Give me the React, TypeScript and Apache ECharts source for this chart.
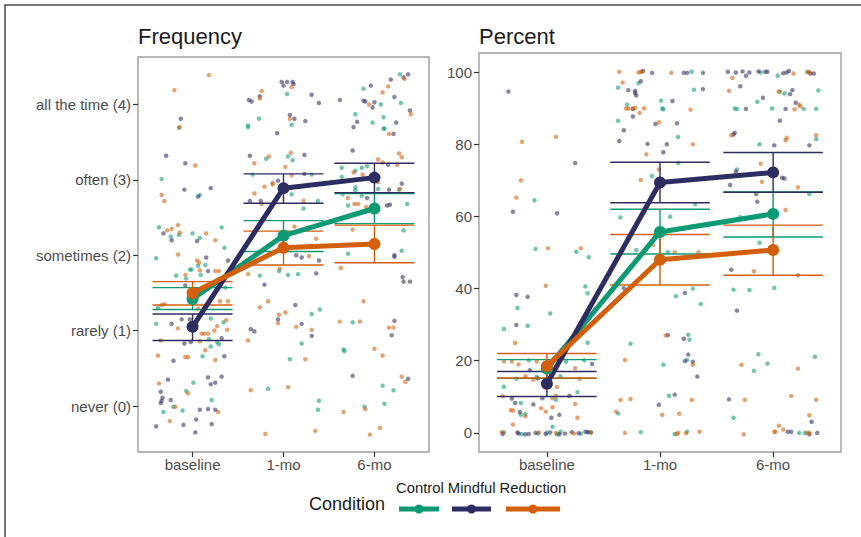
import React, { useEffect, useRef } from "react";
import * as echarts from "echarts";

const timeLabels = ["baseline", "1-mo", "6-mo"];
const freqLabels = ["never (0)", "rarely (1)", "sometimes (2)", "often (3)", "all the time (4)"];
const pctTicks = [0, 20, 40, 60, 80, 100];
const groups = ["Control", "Mindful", "Reduction"];
const groupColors = ["#0b9a73", "#2e2d62", "#d35f0a"];

// Frequency panel: jittered raw responses [x, y]
const freqControl = [
  [0.85,3.69],[0.66,3.01],[1.08,2.80],[0.63,2.37],[0.85,2.27],[0.76,2.25],[1.00,2.29],[1.08,2.23],[1.32,2.37],[1.35,2.10],
  [0.60,1.96],[1.06,1.86],[1.14,1.87],[0.97,1.81],[0.99,1.81],[0.82,1.73],[1.09,1.74],[0.93,1.69],[1.36,1.57],[0.62,1.30],
  [0.60,1.09],[1.20,1.16],[1.34,1.11],[1.18,0.89],[1.27,0.85],[1.29,0.82],[1.20,0.79],[1.11,0.66],[1.01,0.31],[0.93,0.20],
  [1.21,0.08],[0.79,-0.01],[0.68,-0.08],[0.89,-0.06],
  [2.04,4.14],[1.73,3.81],[2.09,3.73],[1.61,3.72],[1.61,3.70],[1.81,3.28],[2.05,3.31],[2.10,3.26],[1.66,3.07],[2.31,3.07],
  [2.09,2.81],[2.38,2.72],[2.22,2.62],[1.95,1.79],[1.74,1.73],[2.05,1.74],[2.16,1.75],[2.40,1.28],[2.31,1.22],[2.20,0.83],
  [2.07,0.62],[1.83,0.23],[2.39,0.07],[2.38,-0.05],
  [3.28,4.40],[2.88,4.21],[3.07,4.00],[3.29,4.02],[2.79,3.87],[3.10,3.83],[2.98,3.76],[3.10,3.68],[3.11,3.68],[2.64,3.16],
  [2.64,3.04],[2.79,3.12],[2.86,3.16],[2.92,3.18],[3.27,2.87],[3.04,2.88],[2.65,2.81],[2.79,2.90],[2.79,2.86],[2.86,2.79],
  [2.71,2.66],[3.36,2.68],[3.32,2.33],[2.71,2.02],[3.30,2.06],[2.66,0.75],[2.67,0.73],[2.76,1.11],[3.09,0.27],[3.21,0.21],
  [3.11,0.03],[2.89,-0.01],
];
const freqMindful = [
  [0.87,3.81],[0.71,3.32],[0.92,3.22],[0.91,2.87],[1.20,2.89],[1.06,2.78],[0.68,2.29],[0.77,2.20],[1.05,2.19],
  [1.15,1.97],[1.39,1.93],[1.17,1.79],[0.92,1.60],[0.88,1.15],[0.97,1.15],[0.77,1.09],[1.32,0.90],[0.91,0.83],[0.98,0.85],
  [1.35,0.66],[0.79,0.60],[0.73,0.35],[1.17,0.38],[1.32,0.39],[1.25,0.31],[1.20,0.29],[0.65,0.19],[0.67,0.11],[0.66,0.07],
  [0.65,0.04],[0.76,0.08],[1.08,-0.05],[1.17,-0.04],[1.25,-0.05],[0.60,-0.27],[1.04,-0.18],[0.90,-0.25],[1.21,-0.24],[1.03,-0.35],
  [1.98,4.30],[2.04,4.30],[2.10,4.30],[2.00,4.25],[2.11,4.27],[1.74,4.11],[1.62,4.06],[1.65,4.04],[2.31,4.13],[2.39,4.02],
  [2.07,3.86],[2.12,3.81],[2.24,3.78],[1.93,3.62],[1.63,3.32],[2.23,3.33],[2.23,3.08],[1.94,2.99],[1.63,2.72],[1.75,2.72],
  [2.14,2.00],[2.20,1.97],[2.39,1.93],[2.36,1.76],[1.79,1.61],[2.13,1.34],[1.94,1.15],[2.20,1.09],[1.64,1.02],[1.68,0.99],[2.31,0.93],
  [3.37,4.40],[3.32,4.36],[3.18,4.33],[2.96,4.25],[3.22,4.10],[2.62,4.06],[2.88,4.05],[2.90,4.04],[3.00,4.03],[2.98,3.96],
  [3.39,3.92],[2.81,3.77],[2.77,3.70],[3.24,3.76],[3.21,3.61],[2.76,3.39],[3.15,3.20],[3.30,2.95],[3.16,2.87],[2.92,2.76],
  [3.14,2.66],[3.17,2.67],[3.22,2.00],[3.22,1.98],[3.31,1.71],[3.32,1.65],[3.39,1.65],[3.22,1.13],[3.19,0.94],[2.76,0.40],[3.37,0.36],
];
const freqReduction = [
  [1.18,4.39],[0.80,4.19],[0.86,3.70],[1.03,3.19],[0.66,2.80],[0.69,2.72],[0.72,2.33],[0.77,2.35],[0.84,2.40],[0.86,2.30],
  [1.15,2.29],[1.25,2.20],[0.84,2.01],[1.05,1.93],[1.07,1.90],[1.08,1.80],[1.25,1.79],[1.29,1.79],[0.92,1.74],[0.69,1.35],
  [0.66,1.34],[1.30,1.39],[1.39,1.39],[1.06,1.29],[0.84,1.03],[1.37,1.14],[1.27,1.06],[1.38,1.01],[1.24,1.00],[1.10,0.96],
  [1.13,0.96],[1.17,0.96],[0.65,0.87],[1.08,0.86],[1.14,0.74],[0.62,0.67],[0.92,0.65],[0.95,0.65],[1.25,0.61],[0.63,0.30],
  [0.95,0.17],[0.81,-0.01],[1.28,-0.08],[0.75,-0.20],
  [2.09,4.23],[1.76,4.18],[1.74,4.08],[2.07,3.81],[1.84,3.31],[2.08,3.36],[1.68,3.22],[2.02,3.17],[2.09,3.06],[1.88,2.96],
  [1.88,2.94],[1.79,2.91],[1.68,2.82],[1.76,2.68],[2.22,2.72],[2.36,2.22],[2.12,2.38],[2.28,1.99],[1.96,1.82],[1.61,1.75],
  [1.83,1.39],[1.74,1.31],[2.02,1.24],[1.95,1.21],[1.94,1.10],[2.14,1.05],[2.31,1.01],[1.61,0.87],[2.24,0.62],[1.64,0.21],
  [2.05,0.25],[1.80,-0.37],[2.35,-0.33],
  [3.33,4.34],[3.15,4.24],[3.09,4.16],[2.94,4.00],[3.40,3.87],[3.16,3.61],[3.27,3.35],[3.30,3.30],[3.04,3.27],[3.09,3.23],
  [3.25,3.20],[2.77,3.10],[2.87,3.07],[3.04,2.97],[3.28,2.88],[2.71,2.76],[2.78,2.68],[2.82,2.68],[2.91,2.64],[2.76,2.34],
  [2.63,1.83],[2.88,1.39],[2.62,1.12],[2.84,1.12],[3.16,1.04],[3.21,1.04],[3.00,0.76],[3.09,0.67],[3.30,0.39],[3.34,0.32],
  [2.90,-0.04],[2.66,-0.08],[3.06,-0.29],[2.95,-0.38],
];

// Percent panel: jittered raw responses [x, y]
const pctControl = [
  [0.89,64.5],[0.90,51.0],[1.26,50.2],[1.37,48.7],[0.74,34.6],[1.34,40.6],[1.36,38.7],[1.03,33.1],[0.83,29.7],[0.62,28.8],
  [1.36,25.0],[0.84,20.1],[1.17,19.7],[1.33,20.1],[0.73,15.0],[0.91,15.5],[1.12,15.7],[0.62,12.8],[0.77,8.3],[1.08,9.2],
  [1.27,11.3],[0.77,5.0],[0.81,5.2],[1.05,1.7],[0.62,0.2],[0.78,-0.3],[1.00,0.1],[0.92,-0.2],[1.09,-0.4],[1.12,0.3],[1.30,-0.2],[1.37,0.2],
  [1.81,96.9],[1.63,95.7],[2.28,100.1],[2.30,95.1],[1.71,91.0],[2.01,92.1],[2.02,89.9],[2.03,89.7],[1.63,86.5],[2.16,82.0],
  [2.16,74.8],[1.93,71.2],[2.31,63.4],[1.65,59.7],[2.09,59.9],[1.79,50.7],[2.07,50.1],[2.14,37.9],[2.29,40.0],[2.36,35.7],
  [2.25,27.2],[2.26,25.8],[1.74,24.7],[2.24,20.2],[2.03,18.9],[2.08,10.3],[1.63,5.4],[1.83,0.2],[2.13,-0.3],[2.24,0.3],
  [2.89,99.9],[3.31,100.1],[3.04,99.0],[3.06,94.6],[3.10,94.1],[3.40,94.9],[2.86,91.8],[2.66,89.9],[2.68,89.8],[2.99,89.9],
  [3.27,89.8],[3.38,89.8],[3.38,81.4],[2.88,80.0],[2.68,73.0],[3.32,66.2],[2.71,59.8],[2.88,52.7],[2.65,39.7],[2.79,39.6],
  [3.01,40.2],[2.87,21.8],[2.83,17.2],[2.95,19.2],[3.37,21.1],[2.65,4.2],[3.23,0.0],[3.28,0.0],
];
const pctMindful = [
  [0.66,94.6],[1.25,74.8],[0.70,61.3],[1.09,60.9],[0.73,38.2],[0.83,37.7],[0.73,29.9],[1.40,19.1],[0.85,17.4],[0.92,15.1],
  [0.69,9.5],[0.88,7.9],[0.72,8.3],[1.20,10.3],[0.96,9.6],[0.76,5.8],[1.04,4.2],[1.11,5.0],[0.61,-0.3],[0.74,0.1],[0.75,-0.2],
  [0.81,-0.4],[0.84,-0.3],[0.90,0.0],[0.99,-0.3],[1.03,0.1],[1.16,-0.2],[1.11,-0.4],[1.22,0.2],[1.28,-0.1],[1.34,0.3],[1.36,0.2],[1.39,0.1],
  [1.85,100.3],[1.93,99.8],[2.21,99.8],[2.24,99.8],[2.38,99.8],[1.83,97.5],[1.72,95.0],[1.78,94.8],[1.78,94.2],[1.79,93.5],
  [2.38,95.3],[1.76,89.8],[1.76,87.7],[2.11,92.0],[1.96,85.6],[2.15,85.8],[1.68,83.9],[1.64,80.9],[1.89,80.1],[2.06,80.0],
  [2.03,77.8],[1.68,40.1],[2.22,38.8],[2.07,27.1],[2.21,26.1],[2.25,21.7],[2.22,19.9],[2.29,19.7],[2.33,15.6],[2.13,10.6],[1.99,7.8],
  [2.60,100.1],[2.67,99.9],[2.73,100.2],[2.79,99.9],[2.87,100.2],[2.93,100.1],[2.95,100.1],[3.09,99.7],[3.12,99.9],[3.14,100.3],
  [3.33,99.6],[3.36,99.6],[2.76,99.0],[2.71,96.1],[3.17,95.0],[3.15,93.9],[2.91,92.9],[3.20,91.5],[2.76,89.8],[3.11,89.8],
  [3.06,86.5],[2.66,83.2],[2.65,82.7],[3.01,79.7],[3.32,79.7],[2.67,72.4],[3.08,70.7],[3.10,70.5],[2.62,68.7],[2.85,66.2],
  [2.86,64.1],[2.63,45.2],[2.68,33.9],[2.61,9.3],[3.34,3.1],[3.13,0.3],[3.16,0.3],[3.32,-0.4],[3.39,0.0],
];
const pctReduction = [
  [0.78,80.7],[1.08,82.1],[0.77,70.0],[0.73,65.2],[1.01,51.2],[1.30,51.2],[0.99,40.8],[0.72,24.9],[0.62,19.8],[0.69,19.8],
  [0.91,19.8],[0.75,19.0],[1.25,17.9],[0.81,15.7],[0.88,14.8],[1.29,15.0],[1.09,12.7],[0.61,10.2],[1.08,10.3],[1.05,9.6],
  [1.25,8.0],[0.68,6.3],[0.70,6.2],[0.81,4.6],[0.95,6.8],[0.99,5.9],[1.05,7.1],[1.27,4.2],[0.70,2.3],[0.60,0.2],[0.93,0.1],
  [1.08,0.0],[1.24,-0.2],[1.39,0.2],
  [1.64,100.1],[1.81,99.9],[1.83,100.1],[1.84,100.1],[2.10,99.8],[1.67,97.1],[1.70,89.9],[1.72,89.9],[1.76,89.9],[1.78,90.1],
  [1.86,90.0],[1.82,88.7],[2.27,89.6],[1.99,86.1],[2.29,80.0],[1.88,77.2],[1.99,73.0],[1.83,70.1],[1.94,52.1],[2.13,50.1],
  [2.34,50.1],[2.05,27.0],[1.69,20.2],[2.29,18.9],[1.65,9.1],[1.74,9.4],[2.28,9.1],[1.61,5.9],[2.02,5.0],[2.17,5.3],
  [1.69,0.0],[2.16,0.0],[2.15,-0.3],[2.23,-0.1],[2.35,0.3],
  [3.18,99.6],[3.30,100.0],[3.32,100.0],[2.64,98.4],[2.61,94.8],[3.05,94.6],[3.23,91.0],[3.24,90.5],[3.19,89.7],[2.63,82.5],
  [3.12,81.8],[3.11,81.1],[3.38,82.5],[2.89,74.6],[2.90,69.6],[3.22,68.1],[3.11,61.8],[2.83,44.8],[3.22,43.7],[2.72,18.9],
  [3.22,17.8],[2.75,9.2],[3.16,10.2],[3.38,9.2],[3.32,4.9],[3.05,2.0],[3.09,0.9],[2.74,-0.4],[3.01,0.3],[3.02,0.3],[3.30,0.0],[3.32,0.0],
];

// Group means and error-bar limits at baseline, 1-mo, 6-mo
const freqControlMean = [1.42, 2.26, 2.62];
const freqControlLo = [1.28, 2.05, 2.42];
const freqControlHi = [1.57, 2.46, 2.82];
const freqMindfulMean = [1.05, 2.89, 3.03];
const freqMindfulLo = [0.87, 2.69, 2.83];
const freqMindfulHi = [1.22, 3.08, 3.22];
const freqReductionMean = [1.5, 2.1, 2.15];
const freqReductionLo = [1.34, 1.87, 1.9];
const freqReductionHi = [1.65, 2.32, 2.4];

const pctControlMean = [17.8, 55.7, 60.7];
const pctControlLo = [15.1, 49.6, 54.3];
const pctControlHi = [20.3, 62.0, 66.8];
const pctMindfulMean = [13.6, 69.4, 72.2];
const pctMindfulLo = [10.1, 63.8, 66.7];
const pctMindfulHi = [17.0, 75.0, 77.7];
const pctReductionMean = [18.5, 48.0, 50.7];
const pctReductionLo = [15.2, 41.0, 43.7];
const pctReductionHi = [22.0, 55.0, 57.6];

const FONT = "'Liberation Sans', Arial, Helvetica, sans-serif";
const CAP = 0.44;
const TICK_FS = 15;

function hexA(hex: string, a: number) {
  const n = parseInt(hex.slice(1), 16);
  return `rgba(${(n >> 16) & 255},${(n >> 8) & 255},${n & 255},${a})`;
}

function errorSeries(idx: number, color: string, lo: number[], hi: number[]) {
  return {
    type: "custom",
    xAxisIndex: idx,
    yAxisIndex: idx,
    z: 3,
    silent: true,
    encode: { x: 0, y: [1, 2] },
    data: lo.map((l, i) => [i + 1, l, hi[i]]),
    renderItem: (params: any, api: any) => {
      const x = api.value(0);
      const top = api.coord([x, api.value(2)]);
      const bot = api.coord([x, api.value(1)]);
      const hw = api.size([CAP, 0])[0];
      const style = { stroke: color, lineWidth: 1.4, fill: "none" };
      return {
        type: "group",
        children: [
          { type: "line", shape: { x1: top[0], y1: top[1], x2: bot[0], y2: bot[1] }, style },
          { type: "line", shape: { x1: top[0] - hw, y1: top[1], x2: top[0] + hw, y2: top[1] }, style },
          { type: "line", shape: { x1: bot[0] - hw, y1: bot[1], x2: bot[0] + hw, y2: bot[1] }, style },
        ],
      };
    },
  };
}

function scatterSeries(idx: number, color: string, pts: number[][]) {
  return {
    type: "scatter",
    xAxisIndex: idx,
    yAxisIndex: idx,
    z: 2,
    symbolSize: 4.5,
    itemStyle: { color: hexA(color, 0.72) },
    data: pts,
    silent: true,
  };
}

function meanSeries(idx: number, color: string, means: number[]) {
  return {
    type: "line",
    xAxisIndex: idx,
    yAxisIndex: idx,
    z: 4,
    symbol: "circle",
    symbolSize: 12,
    lineStyle: { color, width: 5 },
    itemStyle: { color },
    data: means.map((m, i) => [i + 1, m]),
    silent: true,
  };
}

function xAxisFor(idx: number) {
  return {
    type: "value",
    gridIndex: idx,
    min: 0.4,
    max: 3.6,
    axisLine: { show: false, onZero: false },
    splitLine: { show: false },
    axisTick: { show: true, length: 5, customValues: [1, 2, 3], lineStyle: { color: "#333", width: 1.2 } },
    axisLabel: {
      customValues: [1, 2, 3],
      formatter: (v: number) => timeLabels[Math.round(v) - 1] ?? "",
      color: "#4d4d4d",
      fontSize: TICK_FS,
      fontFamily: FONT,
      margin: 5,
    },
  };
}

export default function App() {
  const ref = useRef<HTMLDivElement>(null);
  useEffect(() => {
    if (!ref.current) return;
    const chart = echarts.init(ref.current, null, { renderer: "svg" });
    const freqSets = [
      [freqControl, freqControlMean, freqControlLo, freqControlHi],
      [freqMindful, freqMindfulMean, freqMindfulLo, freqMindfulHi],
      [freqReduction, freqReductionMean, freqReductionLo, freqReductionHi],
    ];
    const pctSets = [
      [pctControl, pctControlMean, pctControlLo, pctControlHi],
      [pctMindful, pctMindfulMean, pctMindfulLo, pctMindfulHi],
      [pctReduction, pctReductionMean, pctReductionLo, pctReductionHi],
    ];
    const series: any[] = [];
    [freqSets, pctSets].forEach((sets, idx) => {
      sets.forEach((s: any, g) => series.push(scatterSeries(idx, groupColors[g], s[0])));
      sets.forEach((s: any, g) => series.push(errorSeries(idx, groupColors[g], s[2], s[3])));
      sets.forEach((s: any, g) => series.push(meanSeries(idx, groupColors[g], s[1])));
    });

    const legendKeys = [
      { x1: 399, x2: 439 },
      { x1: 452, x2: 491 },
      { x1: 506, x2: 560 },
    ];
    const graphic: any[] = [
      { type: "rect", shape: { x: 5, y: 5, width: 900, height: 600 }, style: { fill: "none", stroke: "#4a4a4a", lineWidth: 1.5 }, silent: true },
      { type: "text", x: 138, y: 36, style: { text: "Frequency", font: `22px ${FONT}`, fill: "#1a1a1a", textVerticalAlign: "middle" } },
      { type: "text", x: 479, y: 36, style: { text: "Percent", font: `22px ${FONT}`, fill: "#1a1a1a", textVerticalAlign: "middle" } },
      { type: "text", x: 309, y: 504, style: { text: "Condition", font: `18px ${FONT}`, fill: "#1a1a1a", textVerticalAlign: "middle" } },
      { type: "text", x: 396, y: 488, style: { text: groups.join(" "), font: `14.8px ${FONT}`, fill: "#1a1a1a", textVerticalAlign: "middle" } },
    ];
    legendKeys.forEach((k, i) => {
      graphic.push({ type: "line", shape: { x1: k.x1, y1: 509, x2: k.x2, y2: 509 }, style: { stroke: groupColors[i], lineWidth: 5 } });
      graphic.push({ type: "circle", shape: { cx: (k.x1 + k.x2) / 2, cy: 509, r: 4.5 }, style: { fill: groupColors[i] } });
    });

    chart.setOption({
      animation: false,
      backgroundColor: "#ffffff",
      grid: [
        { left: 138, top: 57, width: 291, height: 395, show: true, borderColor: "#9e9e9e", borderWidth: 1.4, backgroundColor: "transparent", containLabel: false, outerBoundsMode: "none" },
        { left: 479, top: 53, width: 362, height: 399, show: true, borderColor: "#9e9e9e", borderWidth: 1.4, backgroundColor: "transparent", containLabel: false, outerBoundsMode: "none" },
      ],
      xAxis: [xAxisFor(0), xAxisFor(1)],
      yAxis: [
        {
          type: "value",
          gridIndex: 0,
          min: -0.61,
          max: 4.63,
          axisLine: { show: false, onZero: false },
          splitLine: { show: false },
          axisTick: { show: true, length: 5, customValues: [0, 1, 2, 3, 4], lineStyle: { color: "#333", width: 1.2 } },
          axisLabel: {
            customValues: [0, 1, 2, 3, 4],
            formatter: (v: number) => freqLabels[Math.round(v)] ?? "",
            color: "#4d4d4d",
            fontSize: TICK_FS,
            fontFamily: FONT,
            margin: 7,
          },
        },
        {
          type: "value",
          gridIndex: 1,
          min: -5.3,
          max: 105.3,
          axisLine: { show: false, onZero: false },
          splitLine: { show: false },
          axisTick: { show: true, length: 5, customValues: pctTicks, lineStyle: { color: "#333", width: 1.2 } },
          axisLabel: {
            customValues: pctTicks,
            formatter: (v: number) => String(Math.round(v)),
            color: "#4d4d4d",
            fontSize: TICK_FS,
            fontFamily: FONT,
            margin: 7,
          },
        },
      ],
      series,
      graphic,
    });
    return () => chart.dispose();
  }, []);
  return (
    <div
      ref={ref}
      style={{ position: "fixed", left: 0, top: 0, width: 861, height: 537, background: "#fff" }}
    />
  );
}
